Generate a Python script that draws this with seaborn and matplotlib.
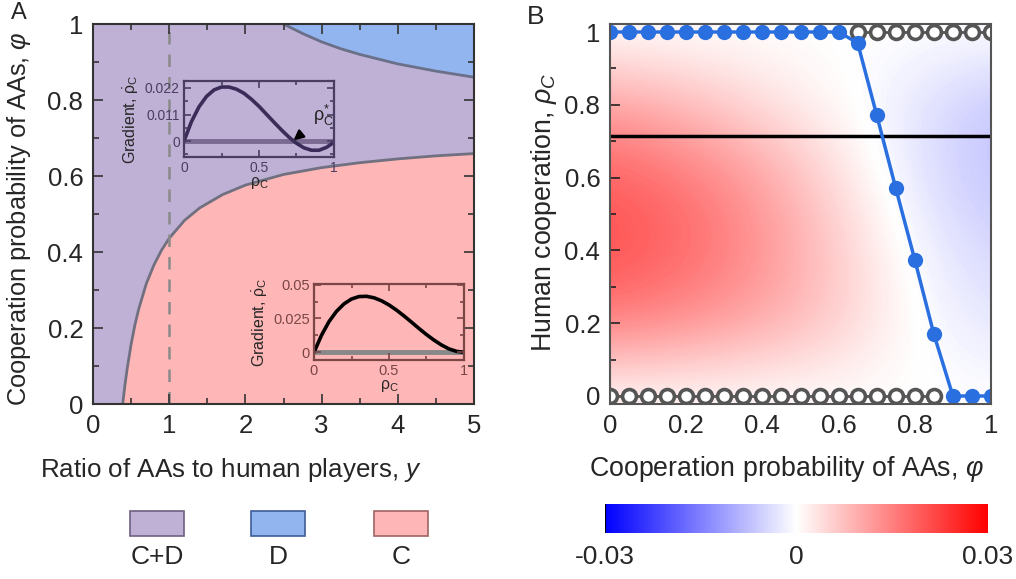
import numpy as np
import matplotlib
matplotlib.use('Agg')
import matplotlib.pyplot as plt
from matplotlib.patches import Rectangle
from matplotlib.ticker import MultipleLocator
import seaborn as sns

sns.set_style('ticks')
plt.rcParams['font.family'] = ['Liberation Sans', 'DejaVu Sans']
plt.rcParams['axes.axisbelow'] = False
plt.rcParams['mathtext.fontset'] = 'custom'
plt.rcParams['mathtext.rm'] = 'Liberation Sans'
plt.rcParams['mathtext.it'] = 'Liberation Sans:italic'

# ---- panel A: phase boundaries ----
ratio_low = [0.39, 0.42, 0.45, 0.5, 0.55, 0.6, 0.7, 0.8, 0.9, 1.0, 1.2, 1.4,
             1.7, 2.0, 2.5, 3.0, 3.5, 4.0, 4.5, 5.0]
phi_low = [0.0, 0.051, 0.095, 0.157, 0.208, 0.250, 0.317, 0.366, 0.405, 0.436,
           0.483, 0.516, 0.551, 0.576, 0.604, 0.622, 0.635, 0.645, 0.653, 0.659]
ratio_up = [2.5, 2.75, 3.0, 3.25, 3.5, 4.0, 4.5, 5.0]
phi_up = [1.0, 0.975, 0.953, 0.935, 0.920, 0.895, 0.876, 0.860]
ratio_dash = 1.0

# insets: gradient vs rho_C
rho_grid = [0.0, 0.05, 0.1, 0.15, 0.2, 0.25, 0.3, 0.35, 0.4, 0.45, 0.5,
            0.55, 0.6, 0.65, 0.7, 0.75, 0.8, 0.85, 0.9, 0.95, 1.0]
grad_top = [0.0, 0.0081, 0.0142, 0.0185, 0.0212, 0.0224, 0.0224, 0.0215, 0.0198,
            0.0173, 0.0144, 0.0111, 0.0078, 0.0046, 0.0016, -0.0009, -0.0028,
            -0.0038, -0.0038, -0.0026, -0.0005]
grad_bot = [0.0, 0.0126, 0.0227, 0.0303, 0.0358, 0.0394, 0.0412, 0.0414, 0.0403,
            0.0381, 0.0350, 0.0312, 0.0269, 0.0223, 0.0176, 0.0131, 0.0090,
            0.0054, 0.0025, 0.0007, 0.0]
rho_star = 0.73

# ---- panel B ----
phi_pts = [0.0, 0.05, 0.1, 0.15, 0.2, 0.25, 0.3, 0.35, 0.4, 0.45, 0.5, 0.55,
           0.6, 0.65, 0.7, 0.75, 0.8, 0.85, 0.9, 0.95, 1.0]
rho_blue = [1, 1, 1, 1, 1, 1, 1, 1, 1, 1, 1, 1, 1, 0.97, 0.772, 0.571, 0.374,
            0.170, 0, 0, 0]
phi_gray_low = [0.0, 0.05, 0.1, 0.15, 0.2, 0.25, 0.3, 0.35, 0.4, 0.45, 0.5,
                0.55, 0.6, 0.65, 0.7, 0.75, 0.8, 0.85]
phi_gray_high = [0.65, 0.7, 0.75, 0.8, 0.85, 0.9, 0.95, 1.0]
rho_line = 0.714

# gradient field, rows rho = 0,0.2,..,1 ; cols phi = 0,0.2,..,1
field = np.array([
    [0.0, 0.0, 0.0, 0.0, 0.0, 0.0],
    [0.015, 0.013, 0.010, 0.006, 0.000, -0.003],
    [0.021, 0.018, 0.013, 0.006, -0.001, -0.005],
    [0.019, 0.016, 0.011, 0.004, -0.003, -0.007],
    [0.011, 0.008, 0.004, 0.0005, -0.003, -0.007],
    [0.0, 0.0, 0.0, 0.0, 0.0, 0.0],
])

purple = '#bfb0d6'
blue = '#92b4ef'
pink = '#ffb6b6'
W, H = 1016, 579
FS = 18.5   # tick labels


def fbox(x0, y0, x1, y1):
    # pixel box -> figure fraction [left, bottom, width, height]
    return [x0 / W, 1 - y1 / H, (x1 - x0) / W, (y1 - y0) / H]


fig = plt.figure(figsize=(W / 100, H / 100), dpi=100)

# ================= panel A =================
axA = fig.add_axes(fbox(93, 24, 474, 404))
axA.set_facecolor(purple)
axA.fill_between(ratio_low, 0, phi_low, color=pink, lw=0)
axA.fill_between(ratio_up, phi_up, 1, color=blue, lw=0)
axA.plot(ratio_low, phi_low, color='#707080', lw=2)
axA.plot(ratio_up, phi_up, color='#6a7088', lw=2)
axA.axvline(ratio_dash, color='#8a8a8a', lw=1.8, ls=(0, (5, 4)))
axA.set_xlim(0, 5)
axA.set_ylim(0, 1)
axA.xaxis.set_major_locator(MultipleLocator(1))
axA.xaxis.set_minor_locator(MultipleLocator(0.5))
axA.set_yticks([0, 0.2, 0.4, 0.6, 0.8, 1.0])
axA.set_yticklabels(['0', '0.2', '0.4', '0.6', '0.8', '1'])
axA.yaxis.set_minor_locator(MultipleLocator(0.1))
axA.tick_params(which='both', direction='in', top=True, right=True,
                labelsize=FS, pad=7, color='#333333')
axA.tick_params(which='major', length=7, width=1.2)
axA.tick_params(which='minor', length=4, width=1.2)
for s in axA.spines.values():
    s.set_color('#333333')
    s.set_linewidth(1.5)
axA.set_xlabel(r'Ratio of AAs to human players, $y$', fontsize=18.7)
axA.xaxis.set_label_coords(0.362, -0.137)
axA.set_ylabel(r'Cooperation probability of AAs, $\varphi$', fontsize=18.3)
axA.yaxis.set_label_coords(-0.157, 0.487)
fig.text(11 / W, 1 - 2 / H, 'A', fontsize=17, va='top', ha='left')

# inset 1 (top)
in1 = fig.add_axes(fbox(184, 81, 334, 157))
in1.set_facecolor('none')
sns.lineplot(x=rho_grid, y=[0] * len(rho_grid), color='#7a6a92', lw=3.5, ax=in1)
sns.lineplot(x=rho_grid, y=grad_top, color='#3a2c58', lw=2.6, ax=in1)
in1.set_xlim(0, 1)
in1.set_ylim(-0.0066, 0.0249)
in1.set_xticks([0, 0.5, 1])
in1.set_xticklabels(['0', '0.5', '1'])
in1.set_yticks([0, 0.011, 0.022])
in1.set_yticklabels(['0', '0.011', '0.022'])
in1.xaxis.set_minor_locator(MultipleLocator(0.25))
in1.yaxis.set_minor_locator(MultipleLocator(0.0055))
in1.tick_params(which='both', direction='in', top=True, right=True,
                labelsize=10, colors='#4a3d62', pad=3)
in1.tick_params(which='major', length=5, width=1.2)
in1.tick_params(which='minor', length=3, width=1.2)
for s in in1.spines.values():
    s.set_color('#4a3d62')
    s.set_linewidth(1.6)
in1.set_xlabel(r'$\mathregular{\rho_C}$', fontsize=11.5, labelpad=0)
in1.set_ylabel(r'Gradient, $\mathregular{\dot{\rho}_C}$', fontsize=11.5, labelpad=3)
in1.annotate(r'$\mathregular{\rho_C^{*}}$', xy=(rho_star, 0.0003), xytext=(0.93, 0.0105),
             fontsize=13, ha='center', va='center', color='#222222',
             arrowprops=dict(arrowstyle='-|>', color='black', lw=1.8,
                             shrinkA=9, shrinkB=0, mutation_scale=14))

# inset 2 (bottom)
in2 = fig.add_axes(fbox(314, 284, 464, 360))
in2.set_facecolor('none')
sns.lineplot(x=rho_grid, y=[0] * len(rho_grid), color='#888888', lw=3.5, ax=in2)
sns.lineplot(x=rho_grid, y=grad_bot, color='black', lw=2.6, ax=in2)
in2.set_xlim(0, 1)
in2.set_ylim(-0.0057, 0.0505)
in2.set_xticks([0, 0.5, 1])
in2.set_xticklabels(['0', '0.5', '1'])
in2.set_yticks([0, 0.025, 0.05])
in2.set_yticklabels(['0', '0.025', '0.05'])
in2.xaxis.set_minor_locator(MultipleLocator(0.25))
in2.yaxis.set_minor_locator(MultipleLocator(0.0125))
in2.tick_params(which='both', direction='in', top=True, right=True,
                labelsize=10.5, colors='#7a4646', pad=3)
in2.tick_params(which='major', length=5, width=1.2)
in2.tick_params(which='minor', length=3, width=1.2)
for s in in2.spines.values():
    s.set_color('#7a4646')
    s.set_linewidth(1.6)
in2.set_xlabel(r'$\mathregular{\rho_C}$', fontsize=11.5, labelpad=0)
in2.set_ylabel(r'Gradient, $\mathregular{\dot{\rho}_C}$', fontsize=11.5, labelpad=2)

# legend boxes under panel A
legend_items = [('C+D', purple, '#6e6080', 130, 184),
                ('D', blue, '#3d5c99', 251, 305),
                ('C', pink, '#a06464', 374, 428)]
for lab, fc, ec, x0, x1 in legend_items:
    l, b, w, h = fbox(x0, 511, x1, 536)
    fig.add_artist(Rectangle((l, b), w, h, transform=fig.transFigure,
                             facecolor=fc, edgecolor=ec, lw=1.2))
    fig.text((x0 + x1) / 2 / W, 1 - 557 / H, lab, fontsize=FS + 0.5,
             ha='center', va='center')

# ================= panel B =================
axB = fig.add_axes(fbox(610, 24, 991, 404))
im = axB.imshow(field, origin='lower', extent=(-0.1, 1.1, -0.1, 1.1),
                cmap='bwr', vmin=-0.03, vmax=0.03, interpolation='bicubic',
                aspect='auto', zorder=0)
axB.axhline(rho_line, color='black', lw=2.5, zorder=2)
sns.lineplot(x=phi_gray_low, y=[0] * len(phi_gray_low), color='#555555', lw=2,
             marker='o', markersize=10, markerfacecolor='white',
             markeredgecolor='#555555', markeredgewidth=2.6, ax=axB, zorder=3)
sns.lineplot(x=phi_gray_high, y=[1] * len(phi_gray_high), color='#555555', lw=2,
             marker='o', markersize=10, markerfacecolor='white',
             markeredgecolor='#555555', markeredgewidth=2.6, ax=axB, zorder=3)
sns.lineplot(x=phi_pts, y=rho_blue, color='#2a6fe0', lw=2.5, marker='o',
             markersize=11, markeredgewidth=0, ax=axB, zorder=4)
axB.set_xlim(0, 1)
axB.set_ylim(-0.022, 1.022)
axB.set_xticks([0, 0.2, 0.4, 0.6, 0.8, 1.0])
axB.set_xticklabels(['0', '0.2', '0.4', '0.6', '0.8', '1'])
axB.set_yticks([0, 0.2, 0.4, 0.6, 0.8, 1.0])
axB.set_yticklabels(['0', '0.2', '0.4', '0.6', '0.8', '1'])
axB.xaxis.set_minor_locator(MultipleLocator(0.1))
axB.yaxis.set_minor_locator(MultipleLocator(0.1))
axB.tick_params(which='both', direction='in', labelsize=FS, pad=7, color='#222222')
axB.tick_params(which='major', length=7, width=1.2)
axB.tick_params(which='minor', length=4, width=1.2)
for s in axB.spines.values():
    s.set_color('#555555')
    s.set_linewidth(1.5)
    s.set_zorder(5)
axB.set_xlabel(r'Cooperation probability of AAs, $\varphi$', fontsize=19.3)
axB.xaxis.set_label_coords(0.462, -0.132)
axB.set_ylabel(r'Human cooperation, $\rho_C$', fontsize=19.3)
axB.yaxis.set_label_coords(-0.134, 0.505)
fig.text(527 / W, 1 - 17 / H, 'B', fontsize=19, va='center')

# colorbar
cax = fig.add_axes(fbox(605, 504, 988, 533))
cb = fig.colorbar(im, cax=cax, orientation='horizontal', ticks=[-0.03, 0, 0.03])
cb.outline.set_visible(False)
cb.ax.set_xticklabels(['-0.03', '0', '0.03'])
cax.tick_params(length=0, labelsize=FS + 0.5, pad=9)
cax.axvline(-0.03, color='black', lw=1.5)

fig.savefig('out.png', dpi=100)
